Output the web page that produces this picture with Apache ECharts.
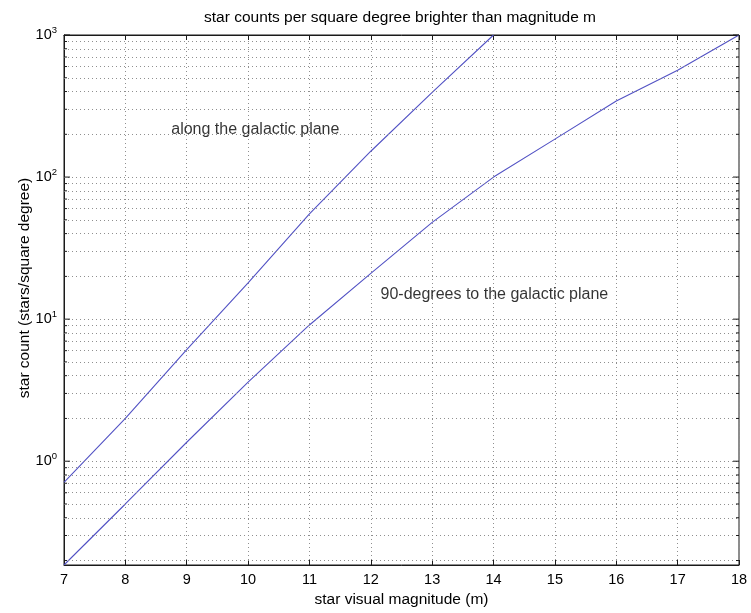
<!DOCTYPE html>
<html>
<head>
<meta charset="utf-8">
<script src="https://cdn.jsdelivr.net/npm/echarts@6/dist/echarts.min.js"></script>
<style>
  html, body { margin: 0; padding: 0; background: #fff; }
  #chart { width: 751px; height: 613px; }
</style>
</head>
<body>
<div id="chart"></div>
<script>
// Cumulative star counts (stars per square degree brighter than magnitude m)
const magnitudes = [7, 8, 9, 10, 11, 12, 13, 14, 15, 16, 17, 18];
const planeMagnitudes = [7, 8, 9, 10, 11, 12, 13, 14];
const alongPlane = [0.71, 2.0, 6.1, 18, 55, 152, 395, 1000];
const perpendicularPlane = [0.186, 0.5, 1.36, 3.6, 9.1, 21, 48, 100, 185, 343, 565, 1000];

const xTicks = [7, 8, 9, 10, 11, 12, 13, 14, 15, 16, 17, 18];
const majorY = [1, 10, 100, 1000];
const minorY = [0.2, 0.3, 0.4, 0.5, 0.6, 0.7, 0.8, 0.9,
                2, 3, 4, 5, 6, 7, 8, 9,
                20, 30, 40, 50, 60, 70, 80, 90,
                200, 300, 400, 500, 600, 700, 800, 900];

const notes = [
  { text: 'along the galactic plane', at: [8.74, 217] },
  { text: '90-degrees to the galactic plane', at: [12.15, 15] }
];

const yMin = 0.186, yMax = 1000;
const xMin = 7, xMax = 18;
const ink = '#1a1a1a';
const lineBlue = '#5252c4';
const FONT = 'Liberation Sans, Arial, sans-serif';

const chart = echarts.init(document.getElementById('chart'), null, { renderer: 'canvas' });

const pair = (xs, ys) => xs.map((x, i) => [x, ys[i]]);

// y tick marks (major and minor) drawn inside the frame on both sides
function yTickRender(params, api) {
  const v = api.value(1);
  const major = api.value(2) === 1;
  const len = major ? 6 : 3;
  const pl = api.coord([xMin, v]);
  const pr = api.coord([xMax, v]);
  return {
    type: 'group',
    children: [
      { type: 'line', shape: { x1: pl[0], y1: pl[1], x2: pl[0] + len, y2: pl[1] },
        style: { stroke: ink, lineWidth: 1 } },
      { type: 'line', shape: { x1: pr[0], y1: pr[1], x2: pr[0] - len, y2: pr[1] },
        style: { stroke: ink, lineWidth: 1 } }
    ]
  };
}

const gridValues = majorY.filter(v => v < yMax).concat(minorY);
const gridStyle = { color: '#8f8f8f', type: [1, 3], width: 1 };

const option = {
  backgroundColor: '#fff',
  animation: false,
  title: {
    text: 'star counts per square degree brighter than magnitude m',
    left: 199, top: 5,
    textStyle: { fontFamily: FONT, fontSize: 15.5, fontWeight: 'normal', color: '#000' }
  },
  grid: {
    left: 64, right: 12, top: 35, bottom: 47,
    show: true, borderColor: ink, borderWidth: 1, backgroundColor: 'transparent'
  },
  xAxis: [
    {
      type: 'value', min: xMin, max: xMax, interval: 1,
      name: 'star visual magnitude (m)', nameLocation: 'middle', nameGap: 27,
      nameTextStyle: { fontFamily: FONT, fontSize: 15.5, color: '#000' },
      axisLine: { show: true, lineStyle: { color: ink } },
      axisTick: { show: true, inside: true, length: 5, lineStyle: { color: ink } },
      axisLabel: { fontFamily: FONT, fontSize: 14.5, color: '#000', margin: 7,
                   formatter: v => (xTicks.includes(v) ? String(v) : '') },
      splitLine: { show: true, lineStyle: gridStyle }
    },
    {
      type: 'value', min: xMin, max: xMax, interval: 1, position: 'top',
      axisLine: { show: true, lineStyle: { color: ink } },
      axisTick: { show: true, inside: true, length: 5, lineStyle: { color: ink } },
      axisLabel: { show: false },
      splitLine: { show: false }
    }
  ],
  yAxis: {
    type: 'log', logBase: 10, min: yMin, max: yMax,
    axisLine: { show: true, lineStyle: { color: ink } },
    axisTick: { show: false },
    splitLine: { show: false },
    axisLabel: {
      fontFamily: FONT, color: '#000', margin: 7,
      formatter: v => {
        const e = Math.log10(v);
        if (Math.abs(e - Math.round(e)) > 1e-6) return '';
        return '{b|10}{s|' + Math.round(e) + '}';
      },
      rich: {
        b: { fontFamily: FONT, fontSize: 14.5, color: '#000' },
        s: { fontFamily: FONT, fontSize: 9.5, color: '#000', padding: [0, 0, 9, 0] }
      }
    }
  },
  graphic: [{
    type: 'text', rotation: Math.PI / 2,
    style: { text: 'star count (stars/square degree)', fontFamily: FONT, fontSize: 15.5,
             fill: '#000', textAlign: 'center', textVerticalAlign: 'middle' },
    position: [25, 288]
  }],
  series: [
    {
      type: 'line', name: 'grid', data: [], silent: true,
      markLine: {
        silent: true, symbol: 'none', label: { show: false }, animation: false,
        lineStyle: gridStyle,
        data: gridValues.map(v => ({ yAxis: v }))
      }
    },
    {
      type: 'custom', name: 'yticks', silent: true, clip: false,
      renderItem: yTickRender,
      data: majorY.map(v => [xMin, v, 1]).concat(minorY.map(v => [xMin, v, 0])),
      z: 5
    },
    {
      type: 'line', name: 'along the galactic plane',
      data: pair(planeMagnitudes, alongPlane),
      showSymbol: false, symbol: 'none',
      lineStyle: { color: lineBlue, width: 1.1 }, z: 4
    },
    {
      type: 'line', name: '90-degrees to the galactic plane',
      data: pair(magnitudes, perpendicularPlane),
      showSymbol: false, symbol: 'none',
      lineStyle: { color: lineBlue, width: 1.1 }, z: 4
    },
    {
      type: 'scatter', name: 'notes', silent: true,
      symbolSize: 1, itemStyle: { color: 'transparent' },
      data: notes.map(n => ({ value: n.at, text: n.text })),
      label: {
        show: true, position: 'right', distance: 0,
        formatter: p => p.data.text,
        fontFamily: FONT, fontSize: 16, color: '#000'
      }
    }
  ]
};

chart.setOption(option);
</script>
</body>
</html>
